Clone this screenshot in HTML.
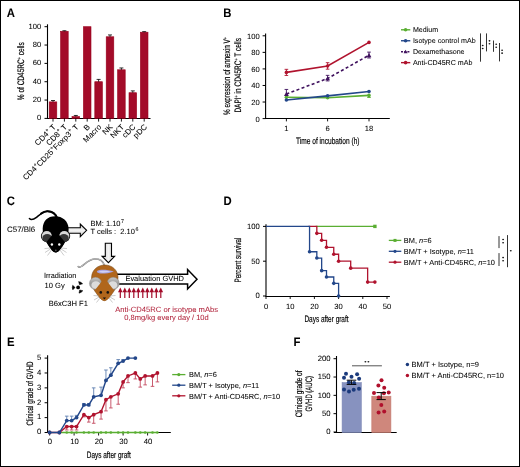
<!DOCTYPE html>
<html><head><meta charset="utf-8"><style>
html,body{margin:0;padding:0;background:#fff;}
svg{display:block;font-family:"Liberation Sans", sans-serif;will-change:transform;text-rendering:geometricPrecision;}
.t{stroke:#000;stroke-width:0.18px;}
text{stroke:#000;stroke-width:0.05px;}
</style></head><body>
<svg width="520" height="467" viewBox="0 0 520 467">
<rect width="520" height="467" fill="#fff"/>
<rect x="0.5" y="0.5" width="519" height="466" fill="none" stroke="#000" stroke-width="1"/>
<text transform="translate(6.7 16.8) scale(0.92 1)" font-size="12.3" font-weight="bold">A</text>
<text transform="translate(223.3 16.6) scale(0.92 1)" font-size="12.3" font-weight="bold">B</text>
<text transform="translate(6.8 204.7) scale(0.92 1)" font-size="12.3" font-weight="bold">C</text>
<text transform="translate(223.4 204.6) scale(0.92 1)" font-size="12.3" font-weight="bold">D</text>
<text transform="translate(7.0 345.6) scale(0.92 1)" font-size="12.3" font-weight="bold">E</text>
<text transform="translate(293.6 345.6) scale(0.92 1)" font-size="12.3" font-weight="bold">F</text>
<line x1="47.5" y1="24.3" x2="47.5" y2="118.9" stroke="#000" stroke-width="1.1" />
<line x1="47.0" y1="118.5" x2="150.5" y2="118.5" stroke="#000" stroke-width="1" />
<line x1="44.5" y1="118.4" x2="47.5" y2="118.4" stroke="#000" stroke-width="1" />
<text x="41.2" y="120.30" font-size="7.6" text-anchor="end" fill="#000">0</text>
<line x1="44.5" y1="100.06" x2="47.5" y2="100.06" stroke="#000" stroke-width="1" />
<text x="41.2" y="101.96" font-size="7.6" text-anchor="end" fill="#000">20</text>
<line x1="44.5" y1="81.72" x2="47.5" y2="81.72" stroke="#000" stroke-width="1" />
<text x="41.2" y="83.62" font-size="7.6" text-anchor="end" fill="#000">40</text>
<line x1="44.5" y1="63.38" x2="47.5" y2="63.38" stroke="#000" stroke-width="1" />
<text x="41.2" y="65.28" font-size="7.6" text-anchor="end" fill="#000">60</text>
<line x1="44.5" y1="45.04" x2="47.5" y2="45.04" stroke="#000" stroke-width="1" />
<text x="41.2" y="46.94" font-size="7.6" text-anchor="end" fill="#000">80</text>
<line x1="44.5" y1="26.70" x2="47.5" y2="26.70" stroke="#000" stroke-width="1" />
<text x="41.2" y="28.6" font-size="7.6" text-anchor="end" fill="#000">100</text>
<rect x="49.2" y="101.89" width="7.6" height="16.50" fill="#a30b29" stroke="#9a001c" stroke-width="0.6"/>
<line x1="53.0" y1="101.89" x2="53.0" y2="100.51" stroke="#000" stroke-width="0.8" />
<line x1="51.0" y1="100.51" x2="55.0" y2="100.51" stroke="#000" stroke-width="0.8" />
<line x1="53.0" y1="118.4" x2="53.0" y2="121.60" stroke="#000" stroke-width="0.9" />
<text x="56.3" y="127.5" font-size="7.9" text-anchor="end" transform="rotate(-45 56.3 127.5)">CD4<tspan font-size="5.8" dy="-3">+</tspan><tspan dy="3"> T</tspan></text>
<rect x="60.60" y="31.28" width="7.6" height="87.11" fill="#a30b29" stroke="#9a001c" stroke-width="0.6"/>
<line x1="64.4" y1="31.28" x2="64.4" y2="30.73" stroke="#000" stroke-width="0.8" />
<line x1="62.40" y1="30.73" x2="66.4" y2="30.73" stroke="#000" stroke-width="0.8" />
<line x1="64.4" y1="118.4" x2="64.4" y2="121.60" stroke="#000" stroke-width="0.9" />
<text x="67.7" y="127.5" font-size="7.9" text-anchor="end" transform="rotate(-45 67.7 127.5)">CD8<tspan font-size="5.8" dy="-3">+</tspan><tspan dy="3"> T</tspan></text>
<rect x="72.0" y="116.56" width="7.6" height="1.83" fill="#a30b29" stroke="#9a001c" stroke-width="0.6"/>
<line x1="75.8" y1="116.56" x2="75.8" y2="115.46" stroke="#000" stroke-width="0.8" />
<line x1="73.8" y1="115.46" x2="77.8" y2="115.46" stroke="#000" stroke-width="0.8" />
<line x1="75.8" y1="118.4" x2="75.8" y2="121.60" stroke="#000" stroke-width="0.9" />
<text x="79.1" y="127.5" font-size="7.9" text-anchor="end" transform="rotate(-45 79.1 127.5)">CD4<tspan font-size="5.8" dy="-3">+</tspan><tspan dy="3">CD25</tspan><tspan font-size="5.8" dy="-3">+</tspan><tspan dy="3">Foxp3</tspan><tspan font-size="5.8" dy="-3">+</tspan><tspan dy="3"> T</tspan></text>
<rect x="83.4" y="26.70" width="7.6" height="91.7" fill="#a30b29" stroke="#9a001c" stroke-width="0.6"/>
<line x1="87.2" y1="118.4" x2="87.2" y2="121.60" stroke="#000" stroke-width="0.9" />
<text x="90.5" y="127.5" font-size="7.9" text-anchor="end" transform="rotate(-45 90.5 127.5)">B</text>
<rect x="94.8" y="81.72" width="7.6" height="36.68" fill="#a30b29" stroke="#9a001c" stroke-width="0.6"/>
<line x1="98.6" y1="81.72" x2="98.6" y2="79.42" stroke="#000" stroke-width="0.8" />
<line x1="96.6" y1="79.42" x2="100.6" y2="79.42" stroke="#000" stroke-width="0.8" />
<line x1="98.6" y1="118.4" x2="98.6" y2="121.60" stroke="#000" stroke-width="0.9" />
<text x="101.89" y="127.5" font-size="7.9" text-anchor="end" transform="rotate(-45 101.89 127.5)">Macro</text>
<rect x="106.2" y="36.78" width="7.6" height="81.61" fill="#a30b29" stroke="#9a001c" stroke-width="0.6"/>
<line x1="110.0" y1="36.78" x2="110.0" y2="34.95" stroke="#000" stroke-width="0.8" />
<line x1="108.0" y1="34.95" x2="112.0" y2="34.95" stroke="#000" stroke-width="0.8" />
<line x1="110.0" y1="118.4" x2="110.0" y2="121.60" stroke="#000" stroke-width="0.9" />
<text x="113.3" y="127.5" font-size="7.9" text-anchor="end" transform="rotate(-45 113.3 127.5)">NK</text>
<rect x="117.60" y="69.79" width="7.6" height="48.60" fill="#a30b29" stroke="#9a001c" stroke-width="0.6"/>
<line x1="121.4" y1="69.79" x2="121.4" y2="67.96" stroke="#000" stroke-width="0.8" />
<line x1="119.4" y1="67.96" x2="123.4" y2="67.96" stroke="#000" stroke-width="0.8" />
<line x1="121.4" y1="118.4" x2="121.4" y2="121.60" stroke="#000" stroke-width="0.9" />
<text x="124.7" y="127.5" font-size="7.9" text-anchor="end" transform="rotate(-45 124.7 127.5)">NKT</text>
<rect x="129.0" y="92.72" width="7.6" height="25.67" fill="#a30b29" stroke="#9a001c" stroke-width="0.6"/>
<line x1="132.8" y1="92.72" x2="132.8" y2="90.89" stroke="#000" stroke-width="0.8" />
<line x1="130.8" y1="90.89" x2="134.8" y2="90.89" stroke="#000" stroke-width="0.8" />
<line x1="132.8" y1="118.4" x2="132.8" y2="121.60" stroke="#000" stroke-width="0.9" />
<text x="136.10" y="127.5" font-size="7.9" text-anchor="end" transform="rotate(-45 136.10 127.5)">cDC</text>
<rect x="140.39" y="32.20" width="7.6" height="86.19" fill="#a30b29" stroke="#9a001c" stroke-width="0.6"/>
<line x1="144.2" y1="32.20" x2="144.2" y2="31.65" stroke="#000" stroke-width="0.8" />
<line x1="142.2" y1="31.65" x2="146.2" y2="31.65" stroke="#000" stroke-width="0.8" />
<line x1="144.2" y1="118.4" x2="144.2" y2="121.60" stroke="#000" stroke-width="0.9" />
<text x="147.5" y="127.5" font-size="7.9" text-anchor="end" transform="rotate(-45 147.5 127.5)">pDC</text>
<text class="t" x="23.7" y="71.2" font-size="9.4" text-anchor="middle" textLength="58" lengthAdjust="spacingAndGlyphs" transform="rotate(-90 23.7 71.2)">% of CD45RC<tspan font-size="5.5" dy="-3">+</tspan><tspan dy="3"> cells</tspan></text>
<line x1="265.6" y1="33.6" x2="265.6" y2="119.1" stroke="#000" stroke-width="1.1" />
<line x1="265.1" y1="118.5" x2="389.8" y2="118.5" stroke="#000" stroke-width="1" />
<line x1="262.6" y1="118.6" x2="265.6" y2="118.6" stroke="#000" stroke-width="1" />
<text x="259.7" y="121.6" font-size="7.6" text-anchor="end" fill="#000">0</text>
<line x1="262.6" y1="102.03" x2="265.6" y2="102.03" stroke="#000" stroke-width="1" />
<text x="259.7" y="105.03" font-size="7.6" text-anchor="end" fill="#000">20</text>
<line x1="262.6" y1="85.47" x2="265.6" y2="85.47" stroke="#000" stroke-width="1" />
<text x="259.7" y="88.47" font-size="7.6" text-anchor="end" fill="#000">40</text>
<line x1="262.6" y1="68.91" x2="265.6" y2="68.91" stroke="#000" stroke-width="1" />
<text x="259.7" y="71.91" font-size="7.6" text-anchor="end" fill="#000">60</text>
<line x1="262.6" y1="52.36" x2="265.6" y2="52.36" stroke="#000" stroke-width="1" />
<text x="259.7" y="55.36" font-size="7.6" text-anchor="end" fill="#000">80</text>
<line x1="262.6" y1="35.8" x2="265.6" y2="35.8" stroke="#000" stroke-width="1" />
<text x="259.7" y="38.8" font-size="7.6" text-anchor="end" fill="#000">100</text>
<line x1="286.4" y1="118.6" x2="286.4" y2="121.39" stroke="#000" stroke-width="0.9" />
<text x="286.4" y="130.8" font-size="7.6" text-anchor="middle" fill="#000">1</text>
<line x1="327.6" y1="118.6" x2="327.6" y2="121.39" stroke="#000" stroke-width="0.9" />
<text x="327.6" y="130.8" font-size="7.6" text-anchor="middle" fill="#000">6</text>
<line x1="369" y1="118.6" x2="369" y2="121.39" stroke="#000" stroke-width="0.9" />
<text x="369" y="130.8" font-size="7.6" text-anchor="middle" fill="#000">18</text>
<text class="t" x="327.8" y="144.1" font-size="9.3" text-anchor="middle" textLength="63.4" lengthAdjust="spacingAndGlyphs">Time of incubation (h)</text>
<text class="t" x="230.4" y="76" font-size="9.4" text-anchor="middle" textLength="78" lengthAdjust="spacingAndGlyphs" transform="rotate(-90 230.4 76)">% expression of annexin V<tspan font-size="5.5" dy="-3">+</tspan></text>
<text class="t" x="241.3" y="75.3" font-size="9.4" text-anchor="middle" textLength="74.6" lengthAdjust="spacingAndGlyphs" transform="rotate(-90 241.3 75.3)">DAPI<tspan font-size="5.5" dy="-3">+</tspan><tspan dy="3"> in CD45RC</tspan><tspan font-size="5.5" dy="-3">+</tspan><tspan dy="3"> T cells</tspan></text>
<polyline points="286.4,97.23 327.6,97.73 369,95.41" fill="none" stroke="#5aae32" stroke-width="1.6"/>
<circle cx="286.4" cy="97.23" r="1.8" fill="#5aae32"/>
<circle cx="327.6" cy="97.73" r="1.8" fill="#5aae32"/>
<line x1="369" y1="97.48" x2="369" y2="95.41" stroke="#5aae32" stroke-width="0.9" />
<line x1="367.2" y1="97.48" x2="370.8" y2="97.48" stroke="#5aae32" stroke-width="0.9" />
<circle cx="369" cy="95.41" r="1.8" fill="#5aae32"/>
<polyline points="286.4,100.05 327.6,95.83 369,91.52" fill="none" stroke="#23478a" stroke-width="1.6"/>
<circle cx="286.4" cy="100.05" r="1.8" fill="#23478a"/>
<circle cx="327.6" cy="95.83" r="1.8" fill="#23478a"/>
<circle cx="369" cy="91.52" r="1.8" fill="#23478a"/>
<polyline points="286.4,94.00 327.6,78.44 369,55.25" fill="none" stroke="#40125e" stroke-width="1.6" stroke-dasharray="3 2.4"/>
<line x1="286.4" y1="94.00" x2="286.4" y2="89.45" stroke="#40125e" stroke-width="0.9" />
<line x1="284.59" y1="89.45" x2="288.2" y2="89.45" stroke="#40125e" stroke-width="0.9" />
<path d="M284.0,95.90 L288.79,95.90 L286.4,91.70 Z" fill="#40125e"/>
<line x1="327.6" y1="80.92" x2="327.6" y2="75.37" stroke="#40125e" stroke-width="0.9" />
<line x1="325.8" y1="80.92" x2="329.40" y2="80.92" stroke="#40125e" stroke-width="0.9" />
<line x1="325.8" y1="75.37" x2="329.40" y2="75.37" stroke="#40125e" stroke-width="0.9" />
<path d="M325.20,80.34 L330.0,80.34 L327.6,76.14 Z" fill="#40125e"/>
<line x1="369" y1="57.99" x2="369" y2="52.11" stroke="#40125e" stroke-width="0.9" />
<line x1="367.2" y1="57.99" x2="370.8" y2="57.99" stroke="#40125e" stroke-width="0.9" />
<line x1="367.2" y1="52.11" x2="370.8" y2="52.11" stroke="#40125e" stroke-width="0.9" />
<path d="M366.6,57.15 L371.4,57.15 L369,52.95 Z" fill="#40125e"/>
<polyline points="286.4,72.39 327.6,66.02 369,42.42" fill="none" stroke="#b0132e" stroke-width="1.6"/>
<line x1="286.4" y1="75.46" x2="286.4" y2="69.33" stroke="#b0132e" stroke-width="0.9" />
<line x1="284.59" y1="75.46" x2="288.2" y2="75.46" stroke="#b0132e" stroke-width="0.9" />
<line x1="284.59" y1="69.33" x2="288.2" y2="69.33" stroke="#b0132e" stroke-width="0.9" />
<circle cx="286.4" cy="72.39" r="1.8" fill="#b0132e"/>
<line x1="327.6" y1="69.16" x2="327.6" y2="62.70" stroke="#b0132e" stroke-width="0.9" />
<line x1="325.8" y1="69.16" x2="329.40" y2="69.16" stroke="#b0132e" stroke-width="0.9" />
<line x1="325.8" y1="62.70" x2="329.40" y2="62.70" stroke="#b0132e" stroke-width="0.9" />
<circle cx="327.6" cy="66.02" r="1.8" fill="#b0132e"/>
<circle cx="369" cy="42.42" r="1.8" fill="#b0132e"/>
<line x1="401" y1="29.8" x2="410.3" y2="29.8" stroke="#5aae32" stroke-width="1.4" />
<circle cx="405.6" cy="29.8" r="1.8" fill="#5aae32"/>
<text x="412.9" y="32.4" font-size="7.1" text-anchor="start" fill="#000">Medium</text>
<line x1="401" y1="40.75" x2="410.3" y2="40.75" stroke="#23478a" stroke-width="1.4" />
<circle cx="405.6" cy="40.75" r="1.8" fill="#23478a"/>
<text x="412.9" y="43.35" font-size="7.1" text-anchor="start" fill="#000">Isotype control mAb</text>
<line x1="401" y1="51.7" x2="410.3" y2="51.7" stroke="#40125e" stroke-width="1.4" stroke-dasharray="2 1.2"/>
<path d="M403.6,53.30 L407.6,53.30 L405.6,49.80 Z" fill="#40125e"/>
<text x="412.9" y="54.30" font-size="7.1" text-anchor="start" fill="#000">Dexamethasone</text>
<line x1="401" y1="62.64" x2="410.3" y2="62.64" stroke="#b0132e" stroke-width="1.4" />
<circle cx="405.6" cy="62.64" r="1.8" fill="#b0132e"/>
<text x="412.9" y="65.24" font-size="7.1" text-anchor="start" fill="#000">Anti-CD45RC mAb</text>
<line x1="480.5" y1="33.4" x2="480.5" y2="61.7" stroke="#333" stroke-width="1" />
<ellipse cx="482.7" cy="45.55" rx="0.95" ry="0.8" fill="#1a1a1a"/>
<ellipse cx="482.7" cy="48.45" rx="0.95" ry="0.8" fill="#1a1a1a"/>
<line x1="486.5" y1="33.4" x2="486.5" y2="51.4" stroke="#333" stroke-width="1" />
<ellipse cx="489.5" cy="40.84" rx="0.95" ry="0.8" fill="#1a1a1a"/>
<ellipse cx="489.5" cy="43.75" rx="0.95" ry="0.8" fill="#1a1a1a"/>
<line x1="493.5" y1="40.5" x2="493.5" y2="51.8" stroke="#333" stroke-width="1" />
<ellipse cx="496.2" cy="44.3" rx="0.95" ry="0.8" fill="#1a1a1a"/>
<ellipse cx="496.2" cy="47.2" rx="0.95" ry="0.8" fill="#1a1a1a"/>
<line x1="499.5" y1="43" x2="499.5" y2="61.4" stroke="#333" stroke-width="1" />
<ellipse cx="502.1" cy="50.25" rx="0.95" ry="0.8" fill="#1a1a1a"/>
<ellipse cx="502.1" cy="53.15" rx="0.95" ry="0.8" fill="#1a1a1a"/>
<defs><linearGradient id="ga" x1="0" y1="0" x2="0" y2="1"><stop offset="0" stop-color="#c8c8c8"/><stop offset="0.5" stop-color="#f4f4f4"/><stop offset="1" stop-color="#c8c8c8"/></linearGradient><linearGradient id="ge" x1="0" y1="0" x2="0" y2="1"><stop offset="0" stop-color="#c8c8c8"/><stop offset="0.5" stop-color="#9a9a9a"/><stop offset="1" stop-color="#b0b0b0"/></linearGradient><linearGradient id="gv" x1="0" y1="0" x2="1" y2="0"><stop offset="0" stop-color="#c8c8c8"/><stop offset="0.5" stop-color="#f4f4f4"/><stop offset="1" stop-color="#c8c8c8"/></linearGradient></defs>
<text x="7" y="232.3" font-size="7.8" text-anchor="start" fill="#000" textLength="28.2" lengthAdjust="spacingAndGlyphs">C57/Bl6</text>
<path d="M62,227.7 L80.3,227.7 L80.3,224 L86.6,230.3 L80.3,236.6 L80.3,233.2 L62,233.2 Z" fill="url(#ga)" stroke="#000" stroke-width="1.1" stroke-linejoin="miter"/>
<path d="M57,218 C55.5,213.5 51.5,211.2 47.2,211.3 C43,211.5 40,214.5 36.5,217.3 C33.5,219.6 31,220.3 29.4,218.6" fill="none" stroke="#000" stroke-width="1.5" stroke-linecap="round"/>
<path d="M57.3,218.5 C55.5,213.5 51.5,211.2 47.2,211.3 C45,211.4 43,212.3 41,213.6" fill="none" stroke="#000" stroke-width="1.9" stroke-linecap="round"/>
<path d="M55,216.3 C62.5,216.3 68.3,221 68.6,228.5 C68.8,234 67.5,239 64,244 C61.5,248 58.5,252.5 55.8,252.6 C53,252.5 50,248 47.5,244 C44,239 42.5,234 42.7,228.5 C43,221 47.5,216.3 55,216.3 Z" fill="#000"/>
<circle cx="46.8" cy="236.1" r="5.9" fill="#000"/>
<circle cx="46.8" cy="236.1" r="5.1" fill="#d8d8d8"/>
<ellipse cx="47.19" cy="238.1" rx="4.9" ry="4.1" fill="#363636"/>
<circle cx="64.3" cy="236.1" r="5.9" fill="#000"/>
<circle cx="64.3" cy="236.1" r="5.1" fill="#d8d8d8"/>
<ellipse cx="63.9" cy="238.1" rx="4.9" ry="4.1" fill="#363636"/>
<path d="M52,235.3 C53.5,233.5 58,233.5 59.3,235.3 L64.8,242 C62,247.5 58.5,252.5 55.8,252.6 C53,252.5 49.5,247.5 46.5,242 Z" fill="#000"/>
<circle cx="51.9" cy="244.5" r="1.2" fill="#fff"/><circle cx="59.3" cy="244.5" r="1.2" fill="#fff"/>
<circle cx="55.8" cy="250.3" r="0.9" fill="#555"/>
<line x1="50.5" y1="248" x2="44.5" y2="248.6" stroke="#999" stroke-width="0.5" />
<line x1="50.5" y1="249" x2="45" y2="252.5" stroke="#999" stroke-width="0.5" />
<line x1="51.5" y1="250" x2="47.5" y2="255.5" stroke="#999" stroke-width="0.5" />
<line x1="61" y1="248" x2="67" y2="248.6" stroke="#999" stroke-width="0.5" />
<line x1="61" y1="249" x2="66.5" y2="252.5" stroke="#999" stroke-width="0.5" />
<line x1="60" y1="250" x2="64" y2="255.5" stroke="#999" stroke-width="0.5" />
<text x="90.5" y="225.6" font-size="7.5">BM: 1.10<tspan font-size="5.3" dx="0.5" dy="-3.1">7</tspan></text>
<text x="90.5" y="234.4" font-size="7.5">T cells :&#160; 2.10<tspan font-size="5.3" dx="0.5" dy="-3.1">6</tspan></text>
<path d="M105.3,243.2 L111.5,243.2 L111.5,256.4 L114.6,256.4 L108.4,262.7 L102.1,256.4 L105.3,256.4 Z" fill="url(#gv)" stroke="#000" stroke-width="1.1"/>
<path d="M112,274.2 L187.6,274.2 L187.6,269.6 L197,279.2 L187.6,288.9 L187.6,283.9 L112,283.9 Z" fill="#fff" stroke="#000" stroke-width="1.5"/>
<text x="125.4" y="281.3" font-size="7.5" text-anchor="start" fill="#000" textLength="58.6" lengthAdjust="spacingAndGlyphs">Evaluation GVHD</text>
<path d="M118.0,292.3 L120.3,287.5 L122.6,292.3 Z" fill="#a30b29"/>
<line x1="120.3" y1="291" x2="120.3" y2="298" stroke="#a30b29" stroke-width="1.2" />
<path d="M122.5,292.3 L124.8,287.5 L127.1,292.3 Z" fill="#a30b29"/>
<line x1="124.8" y1="291" x2="124.8" y2="298" stroke="#a30b29" stroke-width="1.2" />
<path d="M127.00,292.3 L129.3,287.5 L131.60,292.3 Z" fill="#a30b29"/>
<line x1="129.3" y1="291" x2="129.3" y2="298" stroke="#a30b29" stroke-width="1.2" />
<path d="M131.5,292.3 L133.8,287.5 L136.10,292.3 Z" fill="#a30b29"/>
<line x1="133.8" y1="291" x2="133.8" y2="298" stroke="#a30b29" stroke-width="1.2" />
<path d="M136.0,292.3 L138.3,287.5 L140.60,292.3 Z" fill="#a30b29"/>
<line x1="138.3" y1="291" x2="138.3" y2="298" stroke="#a30b29" stroke-width="1.2" />
<path d="M140.5,292.3 L142.8,287.5 L145.10,292.3 Z" fill="#a30b29"/>
<line x1="142.8" y1="291" x2="142.8" y2="298" stroke="#a30b29" stroke-width="1.2" />
<path d="M145.0,292.3 L147.3,287.5 L149.60,292.3 Z" fill="#a30b29"/>
<line x1="147.3" y1="291" x2="147.3" y2="298" stroke="#a30b29" stroke-width="1.2" />
<path d="M149.5,292.3 L151.8,287.5 L154.10,292.3 Z" fill="#a30b29"/>
<line x1="151.8" y1="291" x2="151.8" y2="298" stroke="#a30b29" stroke-width="1.2" />
<path d="M154.0,292.3 L156.3,287.5 L158.60,292.3 Z" fill="#a30b29"/>
<line x1="156.3" y1="291" x2="156.3" y2="298" stroke="#a30b29" stroke-width="1.2" />
<path d="M158.5,292.3 L160.8,287.5 L163.10,292.3 Z" fill="#a30b29"/>
<line x1="160.8" y1="291" x2="160.8" y2="298" stroke="#a30b29" stroke-width="1.2" />
<text x="166.6" y="311.5" font-size="7.6" text-anchor="middle" fill="#b2263e" textLength="102.9" lengthAdjust="spacingAndGlyphs" style="stroke:#b2263e">Anti-CD45RC or isotype mAbs</text>
<text x="166.5" y="320.3" font-size="7.6" text-anchor="middle" fill="#b2263e" textLength="84.5" lengthAdjust="spacingAndGlyphs" style="stroke:#b2263e">0,8mg/kg every day / 10d</text>
<text x="43.9" y="278.4" font-size="7.5" text-anchor="start" fill="#000" textLength="32.5" lengthAdjust="spacingAndGlyphs">Irradiation</text>
<text x="44.5" y="288.3" font-size="7.5" text-anchor="start" fill="#000" textLength="20.2" lengthAdjust="spacingAndGlyphs">10 Gy</text>
<text x="48.8" y="306.4" font-size="7.5" text-anchor="start" fill="#000" textLength="39.1" lengthAdjust="spacingAndGlyphs">B6xC3H F1</text>
<path d="M79.51,284.75 L78.61,281.62 A5.8,5.8 0 0 1 82.61,283.75 Z" fill="#000" stroke="#000" stroke-width="0.5" stroke-linejoin="round"/>
<path d="M75.10,287.50 L72.84,289.85 A5.8,5.8 0 0 1 72.69,285.32 Z" fill="#000" stroke="#000" stroke-width="0.5" stroke-linejoin="round"/>
<path d="M79.69,289.94 L82.85,290.73 A5.8,5.8 0 0 1 79.01,293.13 Z" fill="#000" stroke="#000" stroke-width="0.5" stroke-linejoin="round"/>
<circle cx="78.1" cy="287.4" r="1.85" fill="#000"/>
<path d="M104.5,265.5 C103,261 100,258.8 95,258.8 C90,259 86,263 82,266 C80.5,267.2 79,267.6 78.2,266.6" fill="none" stroke="#777" stroke-width="1.6" stroke-linecap="round"/>
<path d="M104.5,265.5 C103,261 100,258.8 95,258.8 C90,259 86,263 82,266 C80.5,267.2 79,267.6 78.2,266.6" fill="none" stroke="#e0e0e0" stroke-width="0.7" stroke-linecap="round"/>
<path d="M104.9,265 C112,265 117.8,270 118,277 C118.2,283 116.5,288 113,292.5 C110.5,296 107.5,300.6 104.4,300.7 C101.3,300.6 98.3,296 95.8,292.5 C92.3,288 91.3,283 91.6,277 C92,270 97.5,265 104.9,265 Z" fill="#b0661c" stroke="#6b3a08" stroke-width="0.5"/>
<path d="M96.8,271.8 C97.5,269.3 106,269.2 113.9,271.4 C106,274.2 97.5,274.3 96.8,271.8 Z" fill="#a9a6e4"/>
<path d="M99,271.8 C100,270.6 106,270.5 110.5,271.5 C106,272.9 100,273 99,271.8 Z" fill="#d2d0f4"/>
<circle cx="95.5" cy="283.4" r="6.1" fill="url(#ge)" stroke="#8a8a8a" stroke-width="0.4"/>
<ellipse cx="95.9" cy="285" rx="4.5" ry="3.8" fill="#dcdcdc"/>
<circle cx="113.2" cy="283.4" r="6.1" fill="url(#ge)" stroke="#8a8a8a" stroke-width="0.4"/>
<ellipse cx="112.8" cy="285" rx="4.5" ry="3.8" fill="#dcdcdc"/>
<path d="M101.7,281.6 C103,280.5 106,280.5 107.2,281.6 L113.8,290 C111,295.5 107.5,300.6 104.4,300.7 C101.3,300.6 97.8,295.5 95,290 Z" fill="#b0661c"/>
<circle cx="100.8" cy="292.4" r="1.3" fill="#111"/><circle cx="107.8" cy="292.4" r="1.3" fill="#111"/>
<path d="M102.8,297.5 L106,297.5 L104.4,299.6 Z" fill="#111"/>
<line x1="99" y1="296" x2="93.5" y2="295.5" stroke="#999" stroke-width="0.5" />
<line x1="99" y1="297" x2="94" y2="300" stroke="#999" stroke-width="0.5" />
<line x1="100" y1="298" x2="96.5" y2="302.5" stroke="#999" stroke-width="0.5" />
<line x1="110" y1="296" x2="115.5" y2="295.5" stroke="#999" stroke-width="0.5" />
<line x1="110" y1="297" x2="115" y2="300" stroke="#999" stroke-width="0.5" />
<line x1="109" y1="298" x2="112.5" y2="302.5" stroke="#999" stroke-width="0.5" />
<line x1="266" y1="224.2" x2="266" y2="296.5" stroke="#000" stroke-width="1.1" />
<line x1="265.5" y1="296.5" x2="389.9" y2="296.5" stroke="#000" stroke-width="1" />
<line x1="263" y1="296.0" x2="266" y2="296.0" stroke="#000" stroke-width="1" />
<text x="259.8" y="298.4" font-size="7.7" text-anchor="end" fill="#000">0</text>
<line x1="263" y1="261.2" x2="266" y2="261.2" stroke="#000" stroke-width="1" />
<text x="259.8" y="263.59" font-size="7.7" text-anchor="end" fill="#000">50</text>
<line x1="263" y1="226.4" x2="266" y2="226.4" stroke="#000" stroke-width="1" />
<text x="259.8" y="228.8" font-size="7.7" text-anchor="end" fill="#000">100</text>
<line x1="266.0" y1="296" x2="266.0" y2="299" stroke="#000" stroke-width="0.9" />
<text x="266.0" y="308.7" font-size="7.6" text-anchor="middle" fill="#000">0</text>
<line x1="290.2" y1="296" x2="290.2" y2="299" stroke="#000" stroke-width="0.9" />
<text x="290.2" y="308.7" font-size="7.6" text-anchor="middle" fill="#000">10</text>
<line x1="314.4" y1="296" x2="314.4" y2="299" stroke="#000" stroke-width="0.9" />
<text x="314.4" y="308.7" font-size="7.6" text-anchor="middle" fill="#000">20</text>
<line x1="338.6" y1="296" x2="338.6" y2="299" stroke="#000" stroke-width="0.9" />
<text x="338.6" y="308.7" font-size="7.6" text-anchor="middle" fill="#000">30</text>
<line x1="362.8" y1="296" x2="362.8" y2="299" stroke="#000" stroke-width="0.9" />
<text x="362.8" y="308.7" font-size="7.6" text-anchor="middle" fill="#000">40</text>
<line x1="387.0" y1="296" x2="387.0" y2="299" stroke="#000" stroke-width="0.9" />
<text x="387.0" y="308.7" font-size="7.6" text-anchor="middle" fill="#000">50</text>
<text class="t" x="326.5" y="321.8" font-size="9.3" text-anchor="middle" textLength="44.1" lengthAdjust="spacingAndGlyphs">Days after graft</text>
<text class="t" x="241.4" y="260" font-size="9.3" text-anchor="middle" textLength="44.9" lengthAdjust="spacingAndGlyphs" transform="rotate(-90 241.4 260)">Percent survival</text>
<line x1="315.61" y1="226.4" x2="374.9" y2="226.4" stroke="#5aae32" stroke-width="1.3" />
<rect x="373.2" y="224.70" width="3.4" height="3.4" fill="#5aae32"/>
<polyline points="308.35,226.40 316.82,226.40 316.82,233.36 321.66,233.36 321.66,240.32 326.50,240.32 326.50,247.28 333.76,247.28 333.76,254.24 338.60,254.24 338.60,261.20 350.70,261.20 350.70,268.16 367.64,268.16 367.64,282.08 374.90,282.08" fill="none" stroke="#b0132e" stroke-width="1.3"/>
<circle cx="316.82" cy="233.36" r="1.8" fill="#b0132e"/>
<circle cx="321.66" cy="240.32" r="1.8" fill="#b0132e"/>
<circle cx="326.50" cy="247.28" r="1.8" fill="#b0132e"/>
<circle cx="333.76" cy="254.24" r="1.8" fill="#b0132e"/>
<circle cx="338.60" cy="261.20" r="1.8" fill="#b0132e"/>
<circle cx="350.70" cy="268.16" r="1.8" fill="#b0132e"/>
<circle cx="367.64" cy="282.08" r="1.8" fill="#b0132e"/>
<circle cx="374.90" cy="282.08" r="1.8" fill="#b0132e"/>
<polyline points="266.00,226.40 309.56,226.40 309.56,251.73 316.82,251.73 316.82,258.07 321.66,258.07 321.66,270.67 326.50,270.67 326.50,277.00 333.76,277.00 333.76,283.33 338.60,283.33 338.60,296.00" fill="none" stroke="#23478a" stroke-width="1.3"/>
<circle cx="309.56" cy="251.73" r="1.8" fill="#23478a"/>
<circle cx="316.82" cy="258.07" r="1.8" fill="#23478a"/>
<circle cx="321.66" cy="270.67" r="1.8" fill="#23478a"/>
<circle cx="326.50" cy="277.00" r="1.8" fill="#23478a"/>
<circle cx="333.76" cy="283.33" r="1.8" fill="#23478a"/>
<circle cx="338.60" cy="296.00" r="1.8" fill="#23478a"/>
<line x1="388.8" y1="240.4" x2="401.3" y2="240.4" stroke="#5aae32" stroke-width="1.3" />
<rect x="393.5" y="238.9" width="3" height="3" fill="#5aae32"/>
<text x="403.8" y="243.1" font-size="7.4">BM, <tspan font-style="italic">n</tspan>=6</text>
<line x1="388.8" y1="251.3" x2="401.3" y2="251.3" stroke="#23478a" stroke-width="1.3" />
<circle cx="395" cy="251.3" r="1.6" fill="#23478a"/>
<text x="403.8" y="254.0" font-size="7.4">BM/T + Isotype, <tspan font-style="italic">n</tspan>=11</text>
<line x1="388.8" y1="262.2" x2="401.3" y2="262.2" stroke="#b0132e" stroke-width="1.3" />
<circle cx="395" cy="262.2" r="1.6" fill="#b0132e"/>
<text x="403.8" y="264.9" font-size="7.4">BM/T + Anti-CD45RC, <tspan font-style="italic">n</tspan>=10</text>
<line x1="499" y1="236.1" x2="499" y2="248.1" stroke="#333" stroke-width="1" />
<ellipse cx="503.1" cy="239.5" rx="0.95" ry="0.8" fill="#1a1a1a"/>
<ellipse cx="503.1" cy="242.7" rx="0.95" ry="0.8" fill="#1a1a1a"/>
<line x1="499" y1="253.1" x2="499" y2="266" stroke="#333" stroke-width="1" />
<ellipse cx="503.1" cy="257.59" rx="0.95" ry="0.8" fill="#1a1a1a"/>
<ellipse cx="503.1" cy="260.8" rx="0.95" ry="0.8" fill="#1a1a1a"/>
<line x1="507.5" y1="235.1" x2="507.5" y2="267.2" stroke="#333" stroke-width="1" />
<ellipse cx="510.8" cy="250.8" rx="0.95" ry="0.8" fill="#1a1a1a"/>
<line x1="47.6" y1="355.3" x2="47.6" y2="433.0" stroke="#000" stroke-width="1.1" />
<line x1="47.1" y1="432.5" x2="170.8" y2="432.5" stroke="#000" stroke-width="1" />
<line x1="44.6" y1="432.5" x2="47.6" y2="432.5" stroke="#000" stroke-width="1" />
<text x="41.2" y="434.3" font-size="7.7" text-anchor="end" fill="#000">0</text>
<line x1="44.6" y1="417.62" x2="47.6" y2="417.62" stroke="#000" stroke-width="1" />
<text x="41.2" y="419.42" font-size="7.7" text-anchor="end" fill="#000">1</text>
<line x1="44.6" y1="402.74" x2="47.6" y2="402.74" stroke="#000" stroke-width="1" />
<text x="41.2" y="404.54" font-size="7.7" text-anchor="end" fill="#000">2</text>
<line x1="44.6" y1="387.86" x2="47.6" y2="387.86" stroke="#000" stroke-width="1" />
<text x="41.2" y="389.66" font-size="7.7" text-anchor="end" fill="#000">3</text>
<line x1="44.6" y1="372.98" x2="47.6" y2="372.98" stroke="#000" stroke-width="1" />
<text x="41.2" y="374.78" font-size="7.7" text-anchor="end" fill="#000">4</text>
<line x1="44.6" y1="358.1" x2="47.6" y2="358.1" stroke="#000" stroke-width="1" />
<text x="41.2" y="359.90" font-size="7.7" text-anchor="end" fill="#000">5</text>
<line x1="49.6" y1="432.5" x2="49.6" y2="435.5" stroke="#000" stroke-width="0.9" />
<text x="50.0" y="444.4" font-size="7.7" text-anchor="middle" fill="#000">0</text>
<line x1="74.1" y1="432.5" x2="74.1" y2="435.5" stroke="#000" stroke-width="0.9" />
<text x="74.5" y="444.4" font-size="7.7" text-anchor="middle" fill="#000">10</text>
<line x1="98.6" y1="432.5" x2="98.6" y2="435.5" stroke="#000" stroke-width="0.9" />
<text x="99.0" y="444.4" font-size="7.7" text-anchor="middle" fill="#000">20</text>
<line x1="123.1" y1="432.5" x2="123.1" y2="435.5" stroke="#000" stroke-width="0.9" />
<text x="123.5" y="444.4" font-size="7.7" text-anchor="middle" fill="#000">30</text>
<line x1="147.6" y1="432.5" x2="147.6" y2="435.5" stroke="#000" stroke-width="0.9" />
<text x="148.0" y="444.4" font-size="7.7" text-anchor="middle" fill="#000">40</text>
<text class="t" x="108.8" y="457.8" font-size="9.3" text-anchor="middle" textLength="44.1" lengthAdjust="spacingAndGlyphs">Days after graft</text>
<text class="t" x="32.9" y="393.5" font-size="9.3" text-anchor="middle" textLength="64.2" lengthAdjust="spacingAndGlyphs" transform="rotate(-90 32.9 393.5)">Clinical grade of GVHD</text>
<line x1="59.40" y1="432.5" x2="157.4" y2="432.5" stroke="#5aae32" stroke-width="1.3" />
<circle cx="66.75" cy="432.5" r="1.3" fill="#5aae32"/>
<circle cx="71.65" cy="432.5" r="1.3" fill="#5aae32"/>
<circle cx="76.55" cy="432.5" r="1.3" fill="#5aae32"/>
<circle cx="83.90" cy="432.5" r="1.3" fill="#5aae32"/>
<circle cx="88.80" cy="432.5" r="1.3" fill="#5aae32"/>
<circle cx="93.70" cy="432.5" r="1.3" fill="#5aae32"/>
<circle cx="101.05" cy="432.5" r="1.3" fill="#5aae32"/>
<circle cx="105.95" cy="432.5" r="1.3" fill="#5aae32"/>
<circle cx="110.85" cy="432.5" r="1.3" fill="#5aae32"/>
<circle cx="118.20" cy="432.5" r="1.3" fill="#5aae32"/>
<circle cx="123.10" cy="432.5" r="1.3" fill="#5aae32"/>
<circle cx="128.00" cy="432.5" r="1.3" fill="#5aae32"/>
<circle cx="135.35" cy="432.5" r="1.3" fill="#5aae32"/>
<circle cx="140.25" cy="432.5" r="1.3" fill="#5aae32"/>
<circle cx="145.15" cy="432.5" r="1.3" fill="#5aae32"/>
<circle cx="152.50" cy="432.5" r="1.3" fill="#5aae32"/>
<circle cx="157.40" cy="432.5" r="1.3" fill="#5aae32"/>
<line x1="66.75" y1="426.54" x2="66.75" y2="429.97" stroke="#c3485f" stroke-width="0.9" />
<line x1="64.95" y1="429.97" x2="68.55" y2="429.97" stroke="#c3485f" stroke-width="0.9" />
<line x1="71.65" y1="426.54" x2="71.65" y2="429.97" stroke="#c3485f" stroke-width="0.9" />
<line x1="69.85" y1="429.97" x2="73.45" y2="429.97" stroke="#c3485f" stroke-width="0.9" />
<line x1="76.55" y1="426.54" x2="76.55" y2="429.97" stroke="#c3485f" stroke-width="0.9" />
<line x1="74.75" y1="429.97" x2="78.35" y2="429.97" stroke="#c3485f" stroke-width="0.9" />
<line x1="83.9" y1="414.64" x2="83.9" y2="416.87" stroke="#c3485f" stroke-width="0.9" />
<line x1="82.10" y1="416.87" x2="85.7" y2="416.87" stroke="#c3485f" stroke-width="0.9" />
<line x1="88.80" y1="417.62" x2="88.80" y2="422.08" stroke="#c3485f" stroke-width="0.9" />
<line x1="87.00" y1="422.08" x2="90.60" y2="422.08" stroke="#c3485f" stroke-width="0.9" />
<line x1="93.7" y1="414.64" x2="93.7" y2="423.27" stroke="#c3485f" stroke-width="0.9" />
<line x1="91.9" y1="423.27" x2="95.5" y2="423.27" stroke="#c3485f" stroke-width="0.9" />
<line x1="101.05" y1="411.66" x2="101.05" y2="419.10" stroke="#c3485f" stroke-width="0.9" />
<line x1="99.25" y1="419.10" x2="102.85" y2="419.10" stroke="#c3485f" stroke-width="0.9" />
<line x1="105.95" y1="399.76" x2="105.95" y2="410.92" stroke="#c3485f" stroke-width="0.9" />
<line x1="104.15" y1="410.92" x2="107.75" y2="410.92" stroke="#c3485f" stroke-width="0.9" />
<line x1="110.85" y1="396.78" x2="110.85" y2="407.94" stroke="#c3485f" stroke-width="0.9" />
<line x1="109.05" y1="407.94" x2="112.65" y2="407.94" stroke="#c3485f" stroke-width="0.9" />
<line x1="118.20" y1="393.81" x2="118.20" y2="404.22" stroke="#c3485f" stroke-width="0.9" />
<line x1="116.40" y1="404.22" x2="120.00" y2="404.22" stroke="#c3485f" stroke-width="0.9" />
<line x1="123.1" y1="381.90" x2="123.1" y2="387.86" stroke="#c3485f" stroke-width="0.9" />
<line x1="121.3" y1="387.86" x2="124.89" y2="387.86" stroke="#c3485f" stroke-width="0.9" />
<line x1="128.0" y1="375.95" x2="128.0" y2="382.65" stroke="#c3485f" stroke-width="0.9" />
<line x1="126.2" y1="382.65" x2="129.8" y2="382.65" stroke="#c3485f" stroke-width="0.9" />
<line x1="135.35" y1="372.98" x2="135.35" y2="378.93" stroke="#c3485f" stroke-width="0.9" />
<line x1="133.54" y1="378.93" x2="137.15" y2="378.93" stroke="#c3485f" stroke-width="0.9" />
<line x1="140.25" y1="378.93" x2="140.25" y2="387.11" stroke="#c3485f" stroke-width="0.9" />
<line x1="138.45" y1="387.11" x2="142.05" y2="387.11" stroke="#c3485f" stroke-width="0.9" />
<line x1="145.15" y1="375.95" x2="145.15" y2="384.88" stroke="#c3485f" stroke-width="0.9" />
<line x1="143.35" y1="384.88" x2="146.95" y2="384.88" stroke="#c3485f" stroke-width="0.9" />
<line x1="152.5" y1="375.95" x2="152.5" y2="386.37" stroke="#c3485f" stroke-width="0.9" />
<line x1="150.7" y1="386.37" x2="154.3" y2="386.37" stroke="#c3485f" stroke-width="0.9" />
<line x1="157.4" y1="372.98" x2="157.4" y2="381.90" stroke="#c3485f" stroke-width="0.9" />
<line x1="155.6" y1="381.90" x2="159.20" y2="381.90" stroke="#c3485f" stroke-width="0.9" />
<polyline points="49.60,432.50 59.40,432.50 66.75,426.55 71.65,426.55 76.55,426.55 83.90,414.64 88.80,417.62 93.70,414.64 101.05,411.67 105.95,399.76 110.85,396.79 118.20,393.81 123.10,381.91 128.00,375.96 135.35,372.98 140.25,378.93 145.15,375.96 152.50,375.96 157.40,372.98" fill="none" stroke="#b0132e" stroke-width="1.4"/>
<circle cx="49.60" cy="432.50" r="1.9" fill="#b0132e"/>
<circle cx="59.40" cy="432.50" r="1.9" fill="#b0132e"/>
<circle cx="66.75" cy="426.55" r="1.9" fill="#b0132e"/>
<circle cx="71.65" cy="426.55" r="1.9" fill="#b0132e"/>
<circle cx="76.55" cy="426.55" r="1.9" fill="#b0132e"/>
<circle cx="83.90" cy="414.64" r="1.9" fill="#b0132e"/>
<circle cx="88.80" cy="417.62" r="1.9" fill="#b0132e"/>
<circle cx="93.70" cy="414.64" r="1.9" fill="#b0132e"/>
<circle cx="101.05" cy="411.67" r="1.9" fill="#b0132e"/>
<circle cx="105.95" cy="399.76" r="1.9" fill="#b0132e"/>
<circle cx="110.85" cy="396.79" r="1.9" fill="#b0132e"/>
<circle cx="118.20" cy="393.81" r="1.9" fill="#b0132e"/>
<circle cx="123.10" cy="381.91" r="1.9" fill="#b0132e"/>
<circle cx="128.00" cy="375.96" r="1.9" fill="#b0132e"/>
<circle cx="135.35" cy="372.98" r="1.9" fill="#b0132e"/>
<circle cx="140.25" cy="378.93" r="1.9" fill="#b0132e"/>
<circle cx="145.15" cy="375.96" r="1.9" fill="#b0132e"/>
<circle cx="152.50" cy="375.96" r="1.9" fill="#b0132e"/>
<circle cx="157.40" cy="372.98" r="1.9" fill="#b0132e"/>
<line x1="66.75" y1="420.59" x2="66.75" y2="416.13" stroke="#5f7fb0" stroke-width="0.9" />
<line x1="64.95" y1="416.13" x2="68.55" y2="416.13" stroke="#5f7fb0" stroke-width="0.9" />
<line x1="71.65" y1="420.59" x2="71.65" y2="416.13" stroke="#5f7fb0" stroke-width="0.9" />
<line x1="69.85" y1="416.13" x2="73.45" y2="416.13" stroke="#5f7fb0" stroke-width="0.9" />
<line x1="76.55" y1="417.62" x2="76.55" y2="415.38" stroke="#5f7fb0" stroke-width="0.9" />
<line x1="74.75" y1="415.38" x2="78.35" y2="415.38" stroke="#5f7fb0" stroke-width="0.9" />
<line x1="83.9" y1="404.97" x2="83.9" y2="403.48" stroke="#5f7fb0" stroke-width="0.9" />
<line x1="82.10" y1="403.48" x2="85.7" y2="403.48" stroke="#5f7fb0" stroke-width="0.9" />
<line x1="88.80" y1="404.97" x2="88.80" y2="403.48" stroke="#5f7fb0" stroke-width="0.9" />
<line x1="87.00" y1="403.48" x2="90.60" y2="403.48" stroke="#5f7fb0" stroke-width="0.9" />
<line x1="93.7" y1="396.78" x2="93.7" y2="387.86" stroke="#5f7fb0" stroke-width="0.9" />
<line x1="91.9" y1="387.86" x2="95.5" y2="387.86" stroke="#5f7fb0" stroke-width="0.9" />
<line x1="101.05" y1="395.3" x2="101.05" y2="387.11" stroke="#5f7fb0" stroke-width="0.9" />
<line x1="99.25" y1="387.11" x2="102.85" y2="387.11" stroke="#5f7fb0" stroke-width="0.9" />
<line x1="105.95" y1="380.42" x2="105.95" y2="370.00" stroke="#5f7fb0" stroke-width="0.9" />
<line x1="104.15" y1="370.00" x2="107.75" y2="370.00" stroke="#5f7fb0" stroke-width="0.9" />
<line x1="110.85" y1="375.21" x2="110.85" y2="367.77" stroke="#5f7fb0" stroke-width="0.9" />
<line x1="109.05" y1="367.77" x2="112.65" y2="367.77" stroke="#5f7fb0" stroke-width="0.9" />
<line x1="118.20" y1="363.30" x2="118.20" y2="359.58" stroke="#5f7fb0" stroke-width="0.9" />
<line x1="116.40" y1="359.58" x2="120.00" y2="359.58" stroke="#5f7fb0" stroke-width="0.9" />
<line x1="123.1" y1="361.07" x2="123.1" y2="359.58" stroke="#5f7fb0" stroke-width="0.9" />
<line x1="121.3" y1="359.58" x2="124.89" y2="359.58" stroke="#5f7fb0" stroke-width="0.9" />
<polyline points="49.60,432.50 59.40,432.50 66.75,420.60 71.65,420.60 76.55,417.62 83.90,404.97 88.80,404.97 93.70,396.79 101.05,395.30 105.95,380.42 110.85,375.21 118.20,363.31 123.10,361.08 128.00,358.10 135.35,358.10" fill="none" stroke="#23478a" stroke-width="1.4"/>
<circle cx="49.60" cy="432.50" r="1.9" fill="#23478a"/>
<circle cx="59.40" cy="432.50" r="1.9" fill="#23478a"/>
<circle cx="66.75" cy="420.60" r="1.9" fill="#23478a"/>
<circle cx="71.65" cy="420.60" r="1.9" fill="#23478a"/>
<circle cx="76.55" cy="417.62" r="1.9" fill="#23478a"/>
<circle cx="83.90" cy="404.97" r="1.9" fill="#23478a"/>
<circle cx="88.80" cy="404.97" r="1.9" fill="#23478a"/>
<circle cx="93.70" cy="396.79" r="1.9" fill="#23478a"/>
<circle cx="101.05" cy="395.30" r="1.9" fill="#23478a"/>
<circle cx="105.95" cy="380.42" r="1.9" fill="#23478a"/>
<circle cx="110.85" cy="375.21" r="1.9" fill="#23478a"/>
<circle cx="118.20" cy="363.31" r="1.9" fill="#23478a"/>
<circle cx="123.10" cy="361.08" r="1.9" fill="#23478a"/>
<circle cx="128.00" cy="358.10" r="1.9" fill="#23478a"/>
<circle cx="135.35" cy="358.10" r="1.9" fill="#23478a"/>
<line x1="172.2" y1="374.6" x2="185.4" y2="374.6" stroke="#5aae32" stroke-width="1.3" />
<circle cx="178.8" cy="374.6" r="1.6" fill="#5aae32"/>
<text x="189" y="377.3" font-size="7.4">BM, <tspan font-style="italic">n</tspan>=6</text>
<line x1="172.2" y1="385.20" x2="185.4" y2="385.20" stroke="#23478a" stroke-width="1.3" />
<circle cx="178.8" cy="385.20" r="1.6" fill="#23478a"/>
<text x="189" y="387.90" font-size="7.4">BM/T + Isotype, <tspan font-style="italic">n</tspan>=11</text>
<line x1="172.2" y1="395.8" x2="185.4" y2="395.8" stroke="#b0132e" stroke-width="1.3" />
<circle cx="178.8" cy="395.8" r="1.6" fill="#b0132e"/>
<text x="189" y="398.5" font-size="7.4">BM/T + Anti-CD45RC, <tspan font-style="italic">n</tspan>=10</text>
<line x1="336.5" y1="356" x2="336.5" y2="433" stroke="#000" stroke-width="1.1" />
<line x1="334" y1="432.5" x2="396.7" y2="432.5" stroke="#000" stroke-width="1" />
<line x1="333.5" y1="432.0" x2="336.5" y2="432.0" stroke="#000" stroke-width="1" />
<text x="330.5" y="434.3" font-size="7.7" text-anchor="end" fill="#000">0</text>
<line x1="333.5" y1="413.67" x2="336.5" y2="413.67" stroke="#000" stroke-width="1" />
<text x="330.5" y="415.97" font-size="7.7" text-anchor="end" fill="#000">50</text>
<line x1="333.5" y1="395.35" x2="336.5" y2="395.35" stroke="#000" stroke-width="1" />
<text x="330.5" y="397.65" font-size="7.7" text-anchor="end" fill="#000">100</text>
<line x1="333.5" y1="377.02" x2="336.5" y2="377.02" stroke="#000" stroke-width="1" />
<text x="330.5" y="379.32" font-size="7.7" text-anchor="end" fill="#000">150</text>
<line x1="333.5" y1="358.7" x2="336.5" y2="358.7" stroke="#000" stroke-width="1" />
<text x="330.5" y="361.0" font-size="7.7" text-anchor="end" fill="#000">200</text>
<text class="t" x="301.7" y="393.8" font-size="9.3" text-anchor="middle" textLength="46.7" lengthAdjust="spacingAndGlyphs" transform="rotate(-90 301.7 393.8)">Clinical grade of</text>
<text class="t" x="311.9" y="393.8" font-size="9.3" text-anchor="middle" textLength="35.5" lengthAdjust="spacingAndGlyphs" transform="rotate(-90 311.9 393.8)">GVHD (AUC)</text>
<rect x="342.1" y="382.6" width="19.2" height="49.89" fill="#8792bf" stroke="#7d88b6" stroke-width="0.6"/>
<rect x="371.8" y="396.2" width="19.1" height="36.30" fill="#cf877c" stroke="#c47b70" stroke-width="0.6"/>
<circle cx="346" cy="373.7" r="2" fill="#1b3a7c"/>
<circle cx="357.1" cy="374.2" r="2" fill="#1b3a7c"/>
<circle cx="344" cy="377.8" r="2" fill="#1b3a7c"/>
<circle cx="351.5" cy="376.7" r="2" fill="#1b3a7c"/>
<circle cx="359.1" cy="378.8" r="2" fill="#1b3a7c"/>
<circle cx="348.9" cy="382.3" r="2" fill="#1b3a7c"/>
<circle cx="354.1" cy="382.9" r="2" fill="#1b3a7c"/>
<circle cx="344" cy="389.5" r="2" fill="#1b3a7c"/>
<circle cx="349" cy="391.4" r="2" fill="#1b3a7c"/>
<circle cx="353.7" cy="389.8" r="2" fill="#1b3a7c"/>
<circle cx="359" cy="388.7" r="2" fill="#1b3a7c"/>
<circle cx="381.5" cy="380.3" r="2" fill="#b0102c"/>
<circle cx="378.4" cy="385.6" r="2" fill="#b0102c"/>
<circle cx="384.2" cy="387.7" r="2" fill="#b0102c"/>
<circle cx="374" cy="393.1" r="2" fill="#b0102c"/>
<circle cx="383.9" cy="393.3" r="2" fill="#b0102c"/>
<circle cx="388.7" cy="392.6" r="2" fill="#b0102c"/>
<circle cx="378.8" cy="397.4" r="2" fill="#b0102c"/>
<circle cx="381.3" cy="404.9" r="2" fill="#b0102c"/>
<circle cx="378.6" cy="412.4" r="2" fill="#b0102c"/>
<circle cx="384.2" cy="411.6" r="2" fill="#b0102c"/>
<line x1="351.4" y1="380.2" x2="351.4" y2="384.4" stroke="#000" stroke-width="1" />
<line x1="346.7" y1="380.2" x2="356.3" y2="380.2" stroke="#000" stroke-width="1" />
<line x1="346.7" y1="384.4" x2="356.3" y2="384.4" stroke="#000" stroke-width="1" />
<line x1="381.2" y1="392.6" x2="381.2" y2="399.6" stroke="#000" stroke-width="1" />
<line x1="376.5" y1="392.6" x2="385.8" y2="392.6" stroke="#000" stroke-width="1" />
<line x1="376.5" y1="399.6" x2="385.8" y2="399.6" stroke="#000" stroke-width="1" />
<line x1="352" y1="365.8" x2="381.9" y2="365.8" stroke="#555" stroke-width="1" />
<ellipse cx="365.4" cy="361.8" rx="0.95" ry="0.8" fill="#1a1a1a"/>
<ellipse cx="368.4" cy="361.8" rx="0.95" ry="0.8" fill="#1a1a1a"/>
<circle cx="407.4" cy="364.5" r="1.7" fill="#1b3a7c"/>
<text x="411.6" y="367.1" font-size="7.5">BM/T + Isotype, n=9</text>
<circle cx="407.4" cy="375.5" r="1.7" fill="#b0102c"/>
<text x="411.6" y="378.1" font-size="7.5">BM/T + Anti-CD45RC, n=10</text>
</svg></body></html>
